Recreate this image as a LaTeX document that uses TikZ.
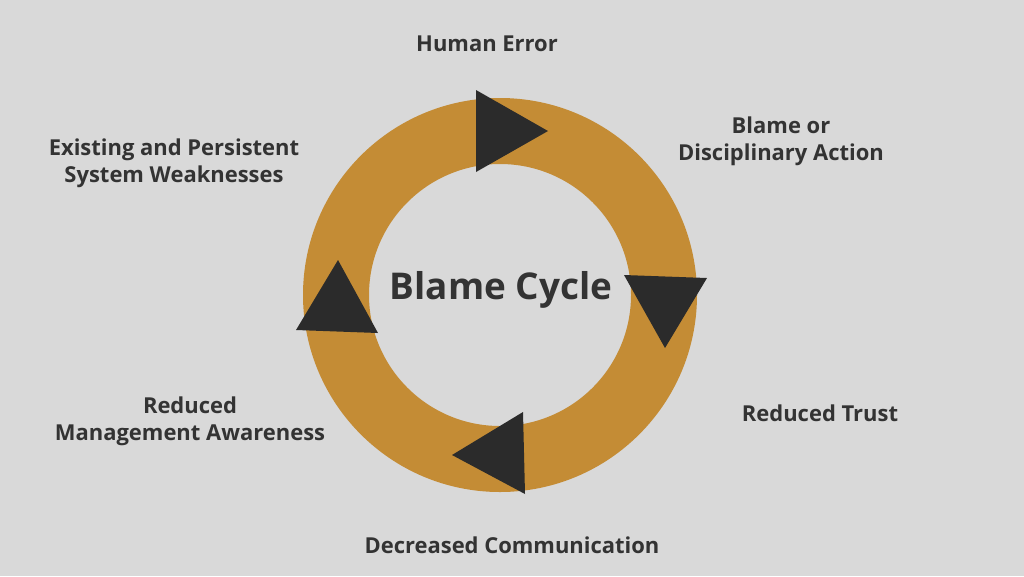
\documentclass[tikz,border=0pt]{standalone}
\usepackage{fontspec}
\setmainfont{Open Sans}
\definecolor{bggray}{RGB}{217,217,217}
\definecolor{ringgold}{RGB}{196,140,53}
\definecolor{arrowdark}{RGB}{43,43,43}
\definecolor{textdark}{RGB}{51,51,51}
\tikzset{
  lbl/.style={font=\bfseries\fontsize{12.5}{15.5}\selectfont, text=textdark, align=center},
  tip/.style={fill=arrowdark}
}
\begin{document}
\begin{tikzpicture}[x=0.02cm, y=-0.02cm]
  % background
  \fill[bggray] (0,0) rectangle (1024,576);
  \useasboundingbox (0,0) rectangle (1024,576);

  % ring
  \fill[ringgold, even odd rule] (500,295) circle[radius=197] (500,295) circle[radius=131];

  % arrow heads
  \fill[tip] (476,90) -- (548,131) -- (476,172) -- cycle;
  \fill[tip] (624,275) -- (707,278) -- (665,348) -- cycle;
  \fill[tip] (523,412) -- (525,494) -- (452,455) -- cycle;
  \fill[tip] (296,330) -- (338,260) -- (378,333) -- cycle;

  % title
  \node[font=\bfseries\fontsize{21}{25}\selectfont, text=textdark] (title) at (501,290) {Blame Cycle};

  % stages
  \node[lbl] (err) at (487,44) {Human Error};
  \node[lbl] (blame) at (781,141) {Blame or\\Disciplinary Action};
  \node[lbl] (trust) at (820,413) {Reduced Trust};
  \node[lbl] (comm) at (512,545) {Decreased Communication};
  \node[lbl] (aware) at (190,421) {Reduced\\Management Awareness};
  \node[lbl] (weak) at (174,163) {Existing and Persistent\\System Weaknesses};
\end{tikzpicture}
\end{document}
